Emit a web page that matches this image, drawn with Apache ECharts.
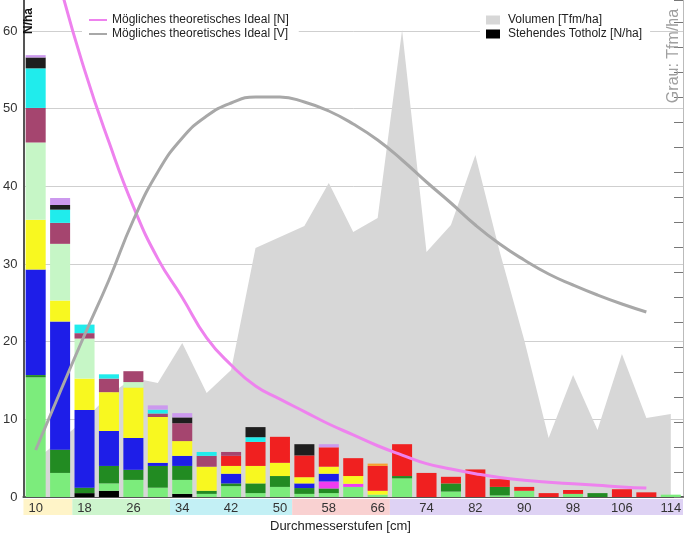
<!DOCTYPE html>
<html>
<head>
<meta charset="utf-8">
<script src="https://cdn.jsdelivr.net/npm/echarts@6/dist/echarts.min.js"></script>
<style>
html,body{margin:0;padding:0;background:#fff;}
#c{width:686px;height:538px;}
</style>
</head>
<body>
<div id="c"></div>
<script>
// ---- data ----
const categories = ['10','14','18','22','26','30','34','38','42','46','50','54','58','62','66','70','74','78','82','86','90','94','98','102','106','110','114'];
// class of each diameter step (for coloured label band)
const bandClass = [0,0,1,1,1,1,2,2,2,2,2,3,3,3,3,4,4,4,4,4,4,4,4,4,4,4,4];
const bandColors = ['#FFF4C8','#CDF5CD','#C3F0F5','#F9D1D1','#DED2F4'];

// stacked N/ha segments (bottom to top)
const totholz   = [0,0,0.5,0.8,0,0,0.4,0,0,0,0,0,0,0,0,0,0,0,0,0,0,0,0,0,0,0,0];
const lightGreen= [15.4,3.1,0,0.95,2.2,1.2,1.8,0.4,1.4,0.5,1.3,0.4,0.5,1.3,0.3,2.4,0,0.7,0,0.2,0.8,0,0.4,0,0,0,0.3];
const darkGreen = [0.3,3.0,0.7,2.25,1.3,2.8,1.8,0.4,0.35,1.25,1.4,0.75,0.6,0,0,0.3,0,1.05,0,1.1,0,0,0,0.5,0,0,0];
const magenta   = [0,0,0,0,0,0,0,0,0,0,0,0,0.9,0.4,0,0,0,0,0,0,0,0,0,0,0,0,0];
const blue      = [13.6,16.5,10.0,4.5,4.1,0.4,1.3,0,1.25,0,0,0.6,1.0,0,0,0,0,0,0,0,0,0,0,0,0,0,0];
const yellow    = [6.4,2.7,4.05,5.0,6.5,5.9,1.9,3.1,1.0,2.25,1.7,0.8,0.9,1.0,0.5,0,0,0,0,0,0,0,0,0,0,0,0];
const paleGreen = [9.95,7.3,5.15,0,0.7,0,0,0,0,0,0,0,0,0,0,0,0,0,0,0,0,0,0,0,0,0,0];
const red       = [0,0,0,0,0,0,0,0,1.3,3.1,3.35,2.8,2.5,2.3,3.2,4.1,3.1,0.85,3.55,1.0,0.5,0.5,0.5,0,1.0,0.6,0];
const orange    = [0,0,0,0,0,0,0,0,0,0,0,0,0,0,0.3,0,0,0,0,0,0,0,0,0,0,0,0];
const mauve     = [4.45,2.7,0.7,1.75,1.4,0.45,2.3,1.4,0.5,0,0,0,0,0,0,0,0,0,0,0,0,0,0,0,0,0,0];
const cyan      = [5.1,1.7,1.1,0.55,0,0.5,0,0.5,0,0.6,0,0,0,0,0,0,0,0,0,0,0,0,0,0,0,0,0];
const dark      = [1.4,0.6,0,0,0,0,0.75,0,0,1.3,0,1.45,0,0,0,0,0,0,0,0,0,0,0,0,0,0,0];
const lavender  = [0.3,0.9,0,0,0,0.55,0.55,0,0,0,0,0,0.4,0,0,0,0,0,0,0,0,0,0,0,0,0,0];

// volume (grey area, right axis, Tfm/ha)
const volumen = [14.8,22.8,30.8,40.8,47.6,45.6,61.6,41.6,50.8,99.6,104,108.4,125.6,106,111.6,186.8,98,108.8,136.8,98,62.8,23.6,48.8,26.8,57.2,31.6,33.2];
// theoretical ideal curves
const idealN = [79,65.9,55,45.7,37.4,30.7,25.7,20.5,17.0,14.3,12.6,11.0,9.4,8.0,6.6,5.4,4.3,3.6,3.0,2.5,2.15,1.9,1.7,1.5,1.3,1.15,null];
const idealV = [18.8,42.0,64.8,86.8,110.8,130.0,143.6,152.4,157.6,160.0,160.0,158.0,154.4,149.2,142.8,134.8,126.0,117.6,108.8,101.2,94.8,89.2,84.8,80.8,77.2,74.0,null];

const FONT = "'Liberation Sans', Arial, sans-serif";

const stackDefs = [
  ['Stehendes Totholz [N/ha]', totholz, '#000000'],
  ['lightGreen', lightGreen, '#7CEC7C'],
  ['darkGreen', darkGreen, '#228B22'],
  ['magenta', magenta, '#F03CF0'],
  ['blue', blue, '#1E1EE8'],
  ['yellow', yellow, '#F8F820'],
  ['paleGreen', paleGreen, '#C6F6C6'],
  ['red', red, '#F02020'],
  ['orange', orange, '#F7A030'],
  ['mauve', mauve, '#A5456F'],
  ['cyan', cyan, '#20ECEC'],
  ['dark', dark, '#1E1E1E'],
  ['lavender', lavender, '#CC99EE']
];

const series = [];
series.push({
  name: 'Volumen [Tfm/ha]', type: 'line', yAxisIndex: 1, data: volumen,
  symbol: 'none', color: '#D7D7D7', lineStyle: {width: 0, color: '#D7D7D7'},
  areaStyle: {color: '#D7D7D7', opacity: 1}, z: 1
});
stackDefs.forEach(d => {
  series.push({
    name: d[0], type: 'bar', stack: 'N', data: d[1], color: d[2],
    itemStyle: {color: d[2]}, barCategoryGap: '18%', z: 2
  });
});
series.push({
  name: 'Mögliches theoretisches Ideal [N]', type: 'line', yAxisIndex: 0, data: idealN,
  symbol: 'none', smooth: true, color: '#EE82EE', lineStyle: {width: 3, color: '#EE82EE'}, z: 4
});
series.push({
  name: 'Mögliches theoretisches Ideal [V]', type: 'line', yAxisIndex: 1, data: idealV,
  symbol: 'none', smooth: true, color: '#A8A8A8', lineStyle: {width: 3, color: '#A8A8A8'}, z: 4
});

const chart = echarts.init(document.getElementById('c'), null, {renderer: 'canvas'});

const baseGraphics = [
  {id: 'nha', type: 'text', x: 29, y: 21, rotation: Math.PI / 2, z: 10,
   style: {text: 'N/ha', fill: '#111', font: 'bold 12px ' + FONT, textAlign: 'center', textVerticalAlign: 'middle'}},
  {id: 'grau', type: 'text', x: 674, y: 56, rotation: Math.PI / 2, z: 10,
   style: {text: 'Grau: Tfm/ha', fill: '#A0A0A0', font: '16px ' + FONT, textAlign: 'center', textVerticalAlign: 'middle'}}
];

chart.setOption({
  animation: false,
  backgroundColor: '#fff',
  textStyle: {fontFamily: FONT},
  title: {
    text: 'Durchmesserstufen [cm]', left: 265, top: 515,
    textStyle: {fontSize: 13, fontWeight: 'normal', color: '#222', fontFamily: FONT}
  },
  grid: {left: 20, right: 3, top: 0, bottom: 41, containLabel: false},
  legend: [
    {
      data: ['Mögliches theoretisches Ideal [N]', 'Mögliches theoretisches Ideal [V]'],
      orient: 'vertical', left: 82, top: 13, itemGap: 0, itemWidth: 18, itemHeight: 10,
      padding: [0, 10, 0, 6], backgroundColor: '#fff',
      itemStyle: {color: 'transparent', borderColor: 'transparent', borderWidth: 0, opacity: 0},
      textStyle: {fontSize: 12, lineHeight: 14, color: '#222', fontFamily: FONT}, selectedMode: false
    },
    {
      data: [{name: 'Volumen [Tfm/ha]', icon: 'rect'}, {name: 'Stehendes Totholz [N/ha]', icon: 'rect'}],
      orient: 'vertical', left: 480, top: 13, itemGap: 0, itemWidth: 14, itemHeight: 9,
      padding: [0, 8, 0, 6], backgroundColor: '#fff',
      textStyle: {fontSize: 12, lineHeight: 14, color: '#222', fontFamily: FONT, padding: [0, 0, 0, 3]}, selectedMode: false
    }
  ],
  xAxis: {
    type: 'category', data: categories, boundaryGap: true,
    axisLine: {lineStyle: {color: '#555', width: 2}},
    axisTick: {show: false},
    axisLabel: {interval: 1, margin: 5, fontSize: 13, color: '#333', fontFamily: FONT},
    splitLine: {show: false}
  },
  yAxis: [
    {
      type: 'value', min: 0, max: 64, interval: 10, position: 'left',
      axisLine: {show: true, lineStyle: {color: '#555', width: 2}},
      axisTick: {show: false},
      axisLabel: {margin: 6, fontSize: 13, color: '#333', fontFamily: FONT,
        formatter: v => (Math.abs(v % 10) < 1e-9 ? String(v) : '')},
      splitLine: {show: true, showMaxLine: false, lineStyle: {color: '#CFCFCF', width: 1}}
    },
    {
      type: 'value', min: 0, max: 198.8, interval: 10, position: 'right',
      axisLine: {show: true, lineStyle: {color: '#BBBBBB', width: 1}},
      axisTick: {show: true, inside: true, length: 9, lineStyle: {color: '#777'}},
      axisLabel: {show: false},
      splitLine: {show: false}
    }
  ],
  series: series,
  graphic: baseGraphics
});

// coloured bands behind the x labels, positioned through the axis scale
function buildBands() {
  const c0 = chart.convertToPixel({xAxisIndex: 0}, categories[0]);
  const c1 = chart.convertToPixel({xAxisIndex: 0}, categories[1]);
  const w = c1 - c0;
  const y0 = chart.convertToPixel({yAxisIndex: 0}, 0) + 2;
  const rects = [];
  let start = 0;
  for (let i = 1; i <= categories.length; i++) {
    if (i === categories.length || bandClass[i] !== bandClass[start]) {
      const xs = chart.convertToPixel({xAxisIndex: 0}, categories[start]) - w / 2;
      const xe = chart.convertToPixel({xAxisIndex: 0}, categories[i - 1]) + w / 2;
      rects.push({
        id: 'band' + start, type: 'rect', z: -1,
        shape: {x: xs, y: y0, width: xe - xs, height: 16},
        style: {fill: bandColors[bandClass[start]]}
      });
      start = i;
    }
  }
  chart.setOption({graphic: baseGraphics.concat(rects)});
}
buildBands();
</script>
</body>
</html>
